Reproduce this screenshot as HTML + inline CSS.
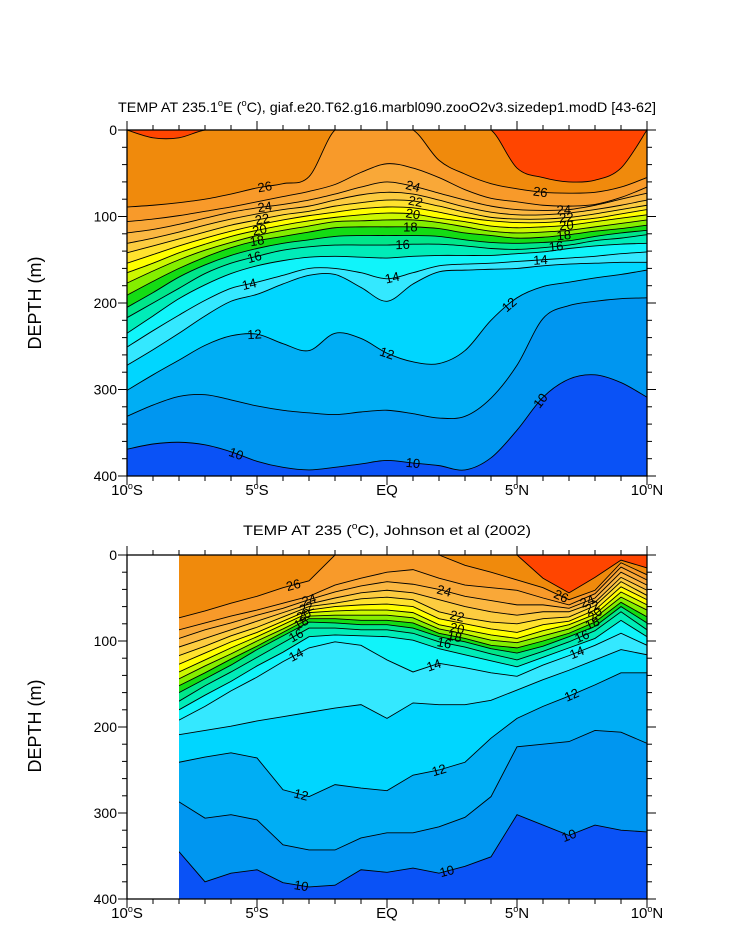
<!DOCTYPE html>
<html>
<head>
<meta charset="utf-8">
<style>
  html, body { margin: 0; padding: 0; background: #ffffff; }
  svg { display: block; font-family: "Liberation Sans", Arial, sans-serif; }
</style>
</head>
<body>
<svg id="chart" width="733" height="945" viewBox="0 0 733 945" xmlns="http://www.w3.org/2000/svg">
  <rect x="0" y="0" width="733" height="945" fill="#ffffff"/>
  <g id="top-panel"></g>
  <g id="bottom-panel"></g>
  <text x="387" y="112" text-anchor="middle" font-size="14" textLength="538" lengthAdjust="spacingAndGlyphs">TEMP AT 235.1<tspan font-size="9" dy="-6">o</tspan><tspan dy="6">E (</tspan><tspan font-size="9" dy="-6">o</tspan><tspan dy="6">C), giaf.e20.T62.g16.marbl090.zooO2v3.sizedep1.modD [43-62]</tspan></text>
  <text x="387" y="535" text-anchor="middle" font-size="14" textLength="288" lengthAdjust="spacingAndGlyphs">TEMP AT 235 (<tspan font-size="9" dy="-6">o</tspan><tspan dy="6">C), Johnson et al (2002)</tspan></text>
  <text x="0" y="0" transform="translate(41,303) rotate(-90)" text-anchor="middle" font-size="18">DEPTH (m)</text>
  <text x="0" y="0" transform="translate(41,726) rotate(-90)" text-anchor="middle" font-size="18">DEPTH (m)</text>
</svg>
<script>
// ---------------- DATA ----------------
const levels = [10,11,12,13,14,15,16,17,18,19,20,21,22,23,24,25,26,27];
const bandColors = ["#0096F0","#00AEF4","#00D6FF","#34E8FF","#10F4FA","#00ECB8","#00E68A","#14DC14","#84EE00","#CCF800","#FFFF00","#FFE22E","#FCCC40","#FBB842","#F9A838","#F89A2A","#F08A0C","#FF4500"];
const deepColor = "#0A52F6";

// Top panel (model): latitudes -10..10, isotherm depths (m)
const topLats = [-10,-9,-8,-7,-6,-5,-4,-3,-2,-1,0,1,2,3,4,5,6,7,8,9,10];
const topDepths = [
  /*10*/[369,363,361,364,372,383,390,393,390,386,382,385,388,393,379,347,309,288,283,292,309],
  /*11*/[331,318,308,306,312,319,324,327,329,326,324,328,333,331,310,272,218,203,198,195,194],
  /*12*/[301,283,266,249,238,236,247,255,235,241,258,268,270,255,220,194,181,176,171,167,162],
  /*13*/[272,254,235,215,198,190,178,168,167,182,198,178,164,162,161,160,157,155,154,153,153],
  /*14*/[251,232,214,197,183,176,168,160,160,165,172,165,157,155,154,152,150,148,146,143,141],
  /*15*/[235,215,195,179,166,157,151,147,146,147,148,146,145,145,145,143,141,137,134,132,131],
  /*16*/[217,200,183,166,154,146,139,135,133,133,133,132,132,134,137,138,136,133,128,125,121],
  /*17*/[205,188,170,156,145,137,131,127,123,122,122,122,123,127,130,131,130,128,123,119,116],
  /*18*/[191,175,160,147,136,128,123,118,113,112,112,112,114,119,122,125,124,121,117,114,110],
  /*19*/[177,163,150,139,130,122,116,111,106,105,104,104,107,112,117,119,118,116,112,108,104],
  /*20*/[165,154,142,132,123,116,110,105,101,98,96,97,102,106,111,113,112,110,106,102,98],
  /*21*/[154,144,134,125,117,110,104,99,95,91,89,90,95,101,105,107,107,105,102,97,92],
  /*22*/[142,134,126,118,110,104,98,94,88,84,81,82,88,95,101,103,103,101,97,92,87],
  /*23*/[131,125,118,110,103,97,92,88,81,75,72,74,81,89,95,98,98,96,92,87,81],
  /*24*/[119,115,109,102,95,90,86,81,74,66,60,65,73,81,88,92,93,92,87,80,73],
  /*25*/[106,103,99,94,89,83,77,71,63,49,39,44,55,69,79,83,87,88,86,78,66],
  /*26*/[89,87,84,80,74,67,62,54,0,0,0,0,35,51,62,68,72,73,72,66,55],
  /*27*/[0,9,9,0,0,0,0,0,0,0,0,0,0,0,0,44,55,60,58,44,0]
];
const topLabels = [[26,5.3],[24,5.3],[22,5.2],[20,5.1],[18,5.0],[16,4.9],[14,4.7],[12,4.9],[10,4.2],
  [24,11.0],[22,11.1],[20,11.0],[18,10.9],[16,10.6],[14,10.2],[12,10.0],[10,11.0],[12,14.7],[10,15.9],
  [26,15.9],[24,16.8],[22,16.9],[20,16.9],[18,16.8],[16,16.5],[14,15.9]];

// Bottom panel (Johnson et al 2002): latitudes -8..10, isotherm depths (m)
const botLats = [-8,-7,-6,-5,-4,-3,-2,-1,0,1,2,3,4,5,6,7,8,9,10];
const botDepths = [
  /*10*/[345,380,370,366,381,386,384,366,369,364,370,362,351,302,314,326,314,320,322],
  /*11*/[287,306,302,308,337,343,343,329,323,323,316,305,281,223,220,217,204,206,219],
  /*12*/[241,235,230,236,273,281,267,271,274,256,250,241,213,190,176,164,151,137,137],
  /*13*/[209,204,199,193,188,183,178,174,190,172,174,174,169,157,145,134,122,110,116],
  /*14*/[192,176,158,142,124,108,101,105,122,136,126,131,137,141,128,117,105,91,105],
  /*15*/[180,163,147,129,113,95,93,94,95,99,109,116,123,130,119,108,97,76,95],
  /*16*/[170,152,136,119,102,85,85,87,87,91,101,107,115,122,112,101,88,66,87],
  /*17*/[160,144,128,110,94,78,79,81,81,85,95,101,109,114,106,95,83,60,79],
  /*18*/[152,137,121,106,90,74,74,76,76,79,91,97,105,108,100,91,78,55,72],
  /*19*/[144,129,115,100,86,71,70,70,70,73,86,92,99,102,94,86,73,49,64],
  /*20*/[136,122,108,95,81,67,65,64,64,67,81,87,93,97,88,81,69,43,58],
  /*21*/[127,114,101,90,77,64,60,58,57,60,74,80,86,90,81,77,64,37,52],
  /*22*/[117,106,94,84,72,60,56,51,49,52,66,73,78,80,74,72,59,31,47],
  /*23*/[107,97,87,77,67,57,50,44,41,44,52,60,66,70,66,66,55,26,41],
  /*24*/[97,87,79,70,62,52,43,36,31,34,40,48,53,58,58,62,50,20,35],
  /*25*/[87,79,71,64,56,48,35,27,20,17,27,35,38,41,50,58,45,14,29],
  /*26*/[73,65,56,48,38,30,0,0,0,0,0,12,20,29,38,52,41,9,23],
  /*27*/[0,0,0,0,0,0,0,0,0,0,0,0,0,0,27,44,26,6,15]
];
const botLabels = [[26,4.4],[24,5.0],[22,4.9],[20,4.8],[18,4.7],[16,4.5],[14,4.5],[12,4.7],[10,4.7],
  [24,10.2],[22,10.7],[20,10.7],[18,10.6],[16,10.2],[14,9.8],[12,10.0],[10,10.3],
  [26,14.7],[24,15.7],[22,15.9],[20,16.0],[18,15.9],[16,15.5],[14,15.3],[12,15.1],[10,15.0]];

const xTickLats = [-10,-5,0,5,10];
const xTickNames = ["10", "5", "EQ", "5", "10"];
const xTickHemis = ["S", "S", "", "N", "N"];
const yTicks = [0,100,200,300,400];

// ---------------- RENDERING ----------------
const NS = "http://www.w3.org/2000/svg";
const X0 = 127, XW = 520;
function xScale(lat) { return X0 + (lat + 10) / 20 * XW; }
function mk(tag, attrs, parent) {
  const el = document.createElementNS(NS, tag);
  for (const k in attrs) el.setAttribute(k, attrs[k]);
  parent.appendChild(el);
  return el;
}
function smoothPath(pts) {
  let d = "M" + pts[0][0].toFixed(2) + "," + pts[0][1].toFixed(2);
  for (let i = 0; i < pts.length - 1; i++) {
    const p0 = pts[Math.max(0, i - 1)], p1 = pts[i], p2 = pts[i + 1], p3 = pts[Math.min(pts.length - 1, i + 2)];
    const c1x = p1[0] + (p2[0] - p0[0]) / 6, c1y = p1[1] + (p2[1] - p0[1]) / 6;
    const c2x = p2[0] - (p3[0] - p1[0]) / 6, c2y = p2[1] - (p3[1] - p1[1]) / 6;
    d += " C" + c1x.toFixed(2) + "," + c1y.toFixed(2) + " " + c2x.toFixed(2) + "," + c2y.toFixed(2) + " " + p2[0].toFixed(2) + "," + p2[1].toFixed(2);
  }
  return d;
}
function linePath(pts) {
  return "M" + pts.map(p => p[0].toFixed(2) + "," + p[1].toFixed(2)).join(" L");
}

function drawPanel(g, lats, depths, labels, y0, h, smooth) {
  const yScale = d => y0 + Math.max(0, Math.min(400, d)) / 400 * h;
  const xL = xScale(lats[0]), xR = xScale(lats[lats.length - 1]);
  const clipId = "clip" + y0;
  const defs = mk("defs", {}, g);
  const cp = mk("clipPath", {id: clipId}, defs);
  mk("rect", {x: xL, y: y0, width: xR - xL, height: h}, cp);
  const dataG = mk("g", {"clip-path": "url(#" + clipId + ")"}, g);
  
  
  const base = mk("rect", {x: xL, y: y0, width: xR - xL, height: h, fill: deepColor}, dataG);
  
  
  const pathFor = pts => smooth ? smoothPath(pts) : linePath(pts);
  const linePts = depths.map(arr => arr.map((d, i) => [xScale(lats[i]), yScale(d)]));
  // filled bands (painter's order, deep to shallow)
  levels.forEach((lev, k) => {
    const pts = linePts[k];
    const d = pathFor(pts) + " L" + (xR + 2) + "," + pts[pts.length - 1][1].toFixed(2) + " L" + (xR + 2) + "," + (y0 - 2) + " L" + (xL - 2) + "," + (y0 - 2) + " L" + (xL - 2) + "," + pts[0][1].toFixed(2) + " Z";
    const p = mk("path", {d: d, fill: bandColors[k], stroke: "none"}, dataG);
    
    
  });
  // contour lines
  levels.forEach((lev, k) => {
    const p = mk("path", {d: pathFor(linePts[k]), fill: "none", stroke: "#000", "stroke-width": "0.9"}, dataG);
    
    
  });
  // labels
  labels.forEach(([lev, fi]) => {
    const k = levels.indexOf(lev);
    const arr = depths[k];
    const i0 = Math.max(0, Math.min(arr.length - 2, Math.floor(fi)));
    const t = fi - i0;
    const dd = arr[i0] * (1 - t) + arr[i0 + 1] * t;
    const lat = lats[i0] * (1 - t) + lats[i0 + 1] * t;
    const x = xScale(lat), y = yScale(dd);
    let ang = Math.atan2(yScale(arr[i0 + 1]) - yScale(arr[i0]), xScale(lats[i0 + 1]) - xScale(lats[i0])) * 180 / Math.PI;
    const tx = mk("text", {x: 0, y: 0, transform: "translate(" + x.toFixed(1) + "," + y.toFixed(1) + ") rotate(" + ang.toFixed(1) + ")", "text-anchor": "middle", "dominant-baseline": "central", "font-size": "13", fill: "#000"}, dataG);
    tx.textContent = String(lev);
    
    
  });
  // frame
  const fr = mk("rect", {x: X0, y: y0, width: XW, height: h, fill: "none", stroke: "#000", "stroke-width": "1.3"}, g);
  
  
  // x ticks
  const tg = mk("g", {stroke: "#000", "stroke-width": "1"}, g);
  
  
  for (let lat = -10; lat <= 10; lat++) {
    const x = xScale(lat);
    const L = (lat % 5 === 0) ? 9 : 5;
    mk("line", {x1: x, y1: y0 + h, x2: x, y2: y0 + h + L}, tg);
    mk("line", {x1: x, y1: y0, x2: x, y2: y0 - L}, tg);
  }
  for (let d = 0; d <= 400; d += 20) {
    const y = y0 + d / 400 * h;
    const L = (d % 100 === 0) ? 9 : 5;
    mk("line", {x1: X0, y1: y, x2: X0 - L, y2: y}, tg);
    mk("line", {x1: X0 + XW, y1: y, x2: X0 + XW + L, y2: y}, tg);
  }
  xTickLats.forEach((lat, i) => {
    const t = mk("text", {x: xScale(lat), y: y0 + h + 19, "text-anchor": "middle", "font-size": "15"}, g);
    
    
    if (xTickHemis[i]) {
      t.appendChild(document.createTextNode(xTickNames[i]));
      const s = mk("tspan", {"font-size": "9", dy: "-6"}, t); s.textContent = "o";
      const h2 = mk("tspan", {dy: "6"}, t); h2.textContent = xTickHemis[i];
    } else {
      t.textContent = xTickNames[i];
    }
  });
  yTicks.forEach(d => {
    const t = mk("text", {x: 117, y: y0 + d / 400 * h + 5, "text-anchor": "end", "font-size": "14"}, g);
    t.textContent = String(d);
    
    
  });
}

drawPanel(document.getElementById("top-panel"), topLats, topDepths, topLabels, 130, 346, true);
drawPanel(document.getElementById("bottom-panel"), botLats, botDepths, botLabels, 555, 344, false);
</script>
</body>
</html>
